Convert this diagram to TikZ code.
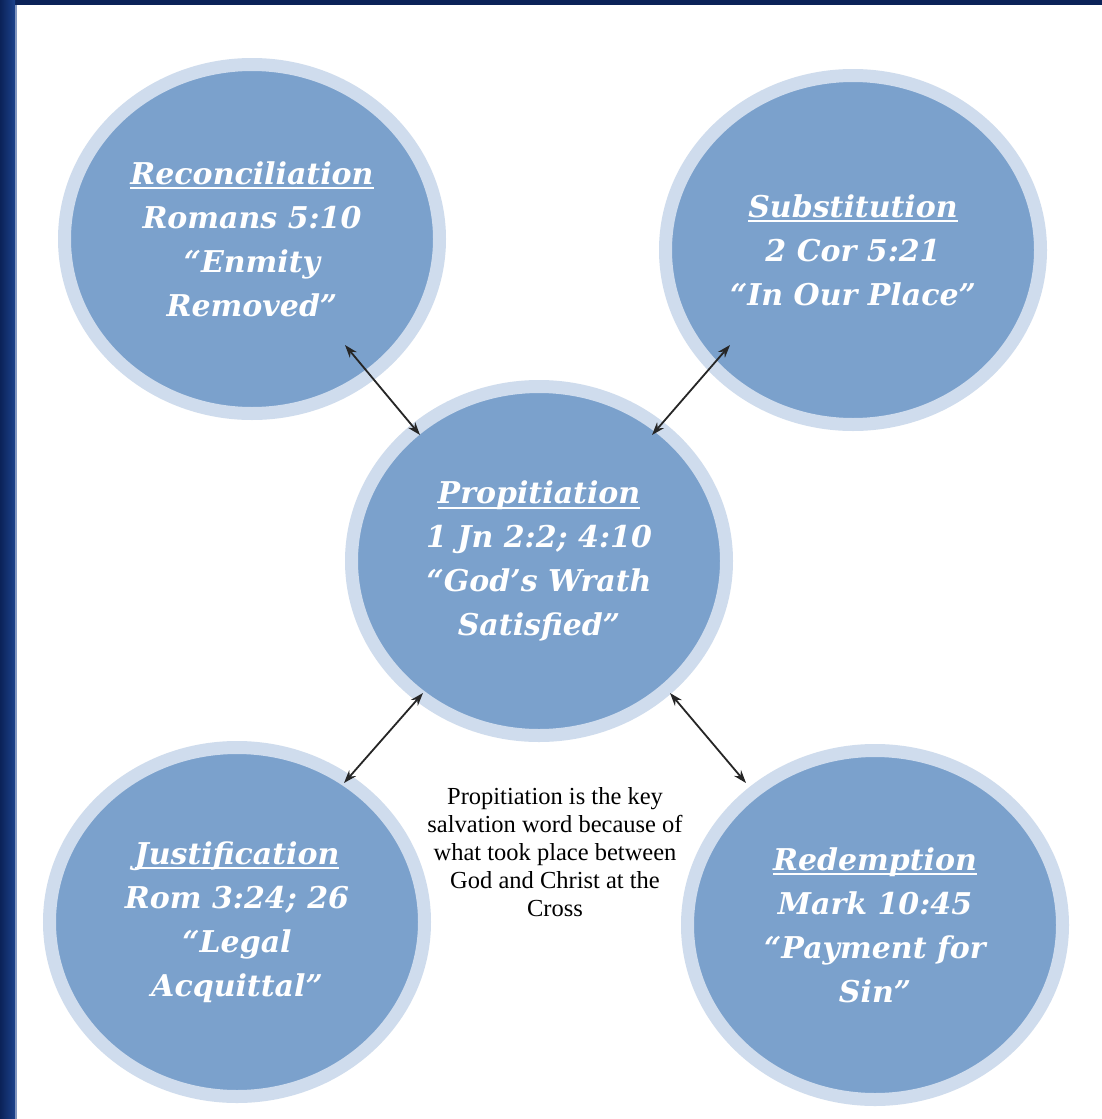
\documentclass[tikz,border=0pt]{standalone}
\usepackage{fontspec}
\setmainfont{Liberation Serif}
\newfontfamily\topicfont{DejaVu Serif}
\usepackage{tikz}
\usetikzlibrary{calc}
\usetikzlibrary{shapes.geometric}
\usetikzlibrary{arrows.meta}
\definecolor{framedark}{RGB}{11,34,88}
\definecolor{framelight}{RGB}{28,66,140}
\definecolor{topicblue}{RGB}{123,161,204}
\definecolor{ringblue}{RGB}{207,220,237}
\newcommand{\ttl}[1]{\setbox0=\hbox{#1}\rlap{\rule[-5pt]{\wd0}{1.8pt}}\box0}
\newcommand{\topicnode}[4]{\node[topic] (#1) at ( #2 , #3 ) {#4};}
\newcommand{\linkarrow}[6]{\draw[link] ($(#1)+(#2,#3)$) -- ($(#4)+(#5,#6)$);}
\tikzset{
  topic/.style={ellipse, fill=topicblue, draw=ringblue, line width=13pt,
    minimum width=375pt, minimum height=349pt, inner sep=0pt,
    text=white, align=center,
    font=\topicfont\bfseries\itshape\fontsize{30}{44}\selectfont},
  link/.style={{Stealth[length=13pt,width=9pt]}-{Stealth[length=13pt,width=9pt]}, line width=1.8pt, black!85},
  note/.style={align=center, text=black, font=\fontsize{24.5}{28}\selectfont}
}
\begin{document}
\begin{tikzpicture}[x=1pt,y=-1pt]
\useasboundingbox (0,0) rectangle (1102,1119);
% frame
\fill[white] (0,0) rectangle (1102,1119);
\fill[framedark] (0,0) rectangle (1102,5);
\shade[left color=framedark, right color=framelight] (0,0) rectangle (15,1119);
\fill[framelight!55!white] (15,5) rectangle (16.5,1119);
% the five circles
\topicnode{rec}{252}{239}{\ttl{Reconciliation}\\Romans 5:10\\“Enmity\\Removed”}
\topicnode{sub}{853}{250}{\ttl{Substitution}\\2 Cor 5:21\\“In Our Place”}
\topicnode{prop}{539}{561}{\ttl{Propitiation}\\1 Jn 2:2; 4:10\\“God’s Wrath\\Satisfied”}
\topicnode{just}{237}{922}{\ttl{Justification}\\Rom 3:24; 26\\“Legal\\Acquittal”}
\topicnode{red}{875}{925}{\ttl{Redemption}\\Mark 10:45\\“Payment for\\Sin”}
% arrows to the centre
\linkarrow{rec}{93}{106}{prop}{-119}{-126}
\linkarrow{sub}{-123}{95}{prop}{113}{-126}
\linkarrow{prop}{-116}{132}{just}{107}{-139}
\linkarrow{prop}{131}{132}{red}{-129}{-142}
% note
\node[note] (key) at (555,852) {Propitiation is the key\\salvation word because of\\what took place between\\God and Christ at the\\Cross};
\end{tikzpicture}
\end{document}
